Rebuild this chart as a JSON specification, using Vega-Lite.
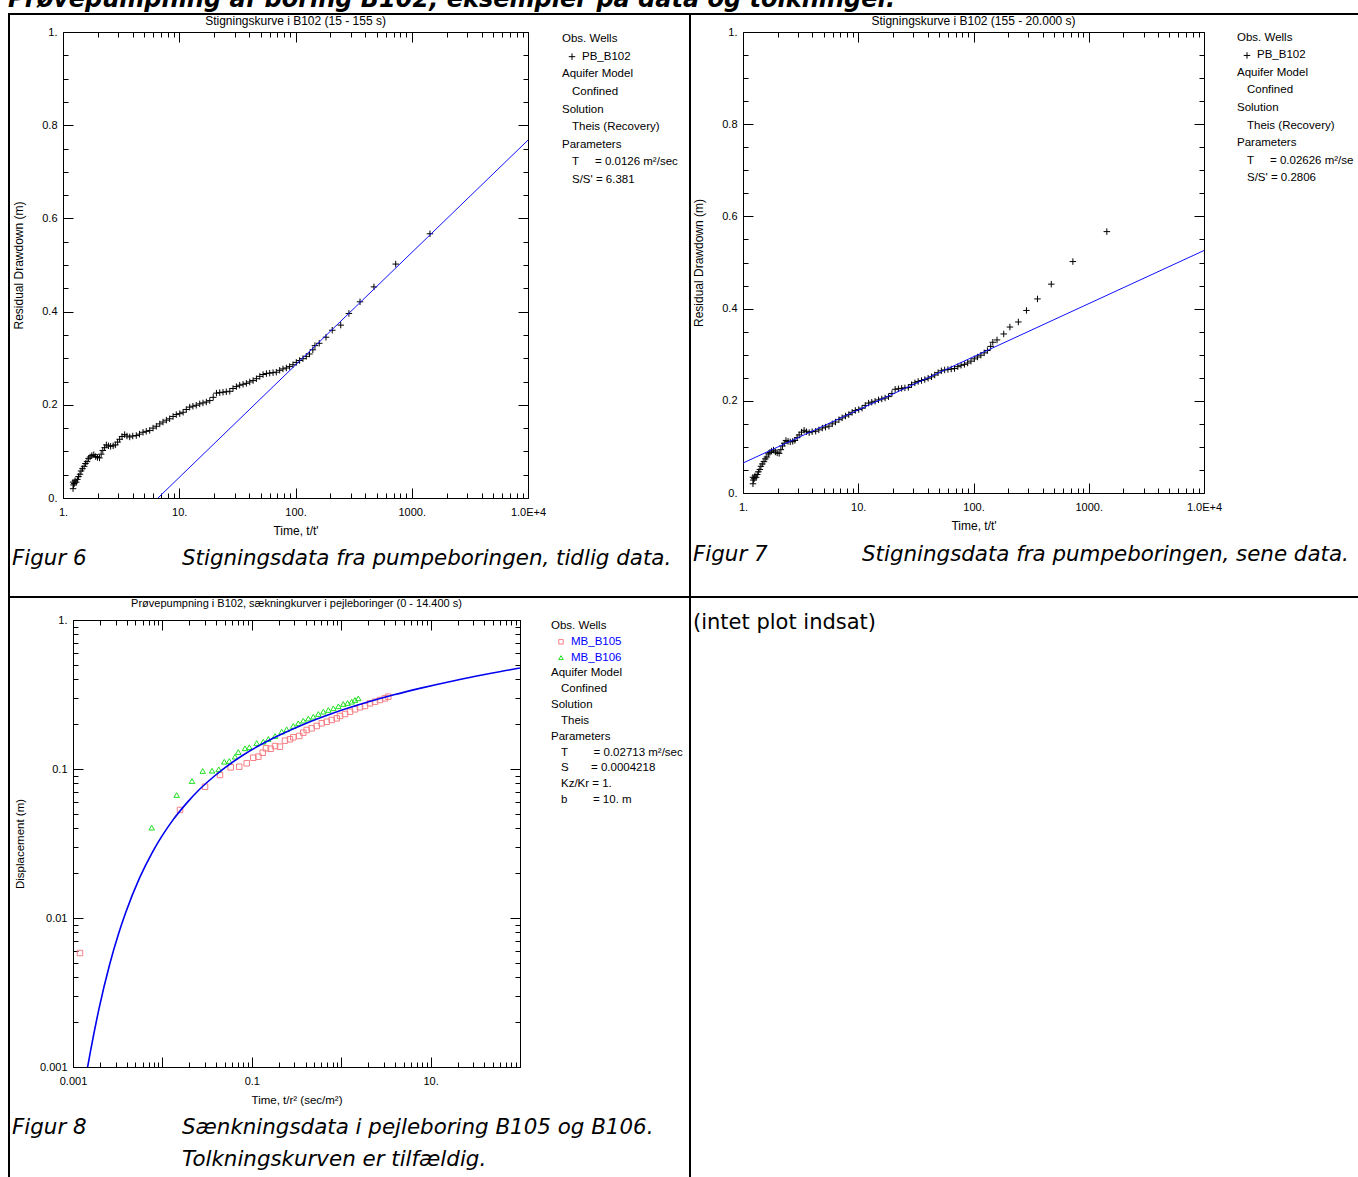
{
  "$schema": "https://vega.github.io/schema/vega-lite/v6.json",
  "background": "#ffffff",
  "padding": {"left": 8, "top": -12, "right": 0, "bottom": 0},
  "title": {"text": "Prøvepumpning af boring B102, eksempler på data og tolkninger.", "anchor": "start", "frame": "bounds", "font": "DejaVu Sans", "fontSize": 24, "fontWeight": "bold", "fontStyle": "italic", "color": "#000", "offset": -23, "baseline": "bottom"},
  "datasets": {
    "recovery": [
      {"t": 1.22, "s": 0.020}, {"t": 1.23, "s": 0.028}, {"t": 1.22, "s": 0.034}, {"t": 1.25, "s": 0.031}, {"t": 1.27, "s": 0.037},
      {"t": 1.30, "s": 0.034}, {"t": 1.33, "s": 0.040}, {"t": 1.36, "s": 0.046}, {"t": 1.40, "s": 0.051}, {"t": 1.43, "s": 0.058},
      {"t": 1.47, "s": 0.063}, {"t": 1.52, "s": 0.068}, {"t": 1.56, "s": 0.074}, {"t": 1.61, "s": 0.078}, {"t": 1.66, "s": 0.085},
      {"t": 1.71, "s": 0.088}, {"t": 1.77, "s": 0.091}, {"t": 1.84, "s": 0.093}, {"t": 1.91, "s": 0.089}, {"t": 1.98, "s": 0.087},
      {"t": 2.06, "s": 0.086}, {"t": 2.13, "s": 0.094}, {"t": 2.20, "s": 0.102}, {"t": 2.28, "s": 0.108}, {"t": 2.36, "s": 0.114},
      {"t": 2.46, "s": 0.112}, {"t": 2.57, "s": 0.111}, {"t": 2.70, "s": 0.112}, {"t": 2.82, "s": 0.114}, {"t": 2.95, "s": 0.120},
      {"t": 3.07, "s": 0.126}, {"t": 3.22, "s": 0.132}, {"t": 3.39, "s": 0.136}, {"t": 3.55, "s": 0.133}, {"t": 3.75, "s": 0.131},
      {"t": 3.98, "s": 0.133}, {"t": 4.27, "s": 0.134}, {"t": 4.55, "s": 0.137}, {"t": 4.88, "s": 0.141}, {"t": 5.20, "s": 0.143},
      {"t": 5.57, "s": 0.145}, {"t": 5.95, "s": 0.150}, {"t": 6.35, "s": 0.154}, {"t": 6.80, "s": 0.159}, {"t": 7.25, "s": 0.163},
      {"t": 7.75, "s": 0.167}, {"t": 8.27, "s": 0.170}, {"t": 8.85, "s": 0.175}, {"t": 9.43, "s": 0.179}, {"t": 10.1, "s": 0.181},
      {"t": 10.8, "s": 0.184}, {"t": 11.5, "s": 0.190}, {"t": 12.3, "s": 0.195}, {"t": 13.1, "s": 0.197}, {"t": 14.0, "s": 0.199},
      {"t": 15.0, "s": 0.202}, {"t": 16.0, "s": 0.204}, {"t": 17.1, "s": 0.206}, {"t": 18.3, "s": 0.209}, {"t": 19.6, "s": 0.216},
      {"t": 20.9, "s": 0.225}, {"t": 22.3, "s": 0.226}, {"t": 23.8, "s": 0.227}, {"t": 25.4, "s": 0.228}, {"t": 27.2, "s": 0.229},
      {"t": 29.0, "s": 0.235}, {"t": 31.0, "s": 0.239}, {"t": 33.1, "s": 0.242}, {"t": 35.4, "s": 0.244}, {"t": 37.8, "s": 0.246},
      {"t": 40.4, "s": 0.249}, {"t": 43.2, "s": 0.252}, {"t": 46.1, "s": 0.256}, {"t": 49.3, "s": 0.261}, {"t": 52.6, "s": 0.265},
      {"t": 56.2, "s": 0.267}, {"t": 60.0, "s": 0.268}, {"t": 64.1, "s": 0.269}, {"t": 68.4, "s": 0.270}, {"t": 73.1, "s": 0.274},
      {"t": 78.0, "s": 0.277}, {"t": 83.4, "s": 0.279}, {"t": 89.0, "s": 0.282}, {"t": 95.1, "s": 0.286}, {"t": 101.6, "s": 0.291},
      {"t": 108.5, "s": 0.295}, {"t": 115.9, "s": 0.299}, {"t": 123.8, "s": 0.304}, {"t": 132, "s": 0.309}, {"t": 141, "s": 0.318},
      {"t": 147, "s": 0.327}, {"t": 160, "s": 0.332}, {"t": 183, "s": 0.345}, {"t": 207, "s": 0.360}, {"t": 245, "s": 0.371},
      {"t": 288, "s": 0.396}, {"t": 359, "s": 0.421}, {"t": 473, "s": 0.453}, {"t": 728, "s": 0.502}, {"t": 1435, "s": 0.567}
    ],
    "fit6": [{"t": 6.56, "s": 0}, {"t": 10000, "s": 0.768}],
    "fit7": [{"t": 1, "s": 0.065}, {"t": 10000, "s": 0.526}],
    "obs8": [
      {"well": "MB_B105", "x": 0.001197, "y": 0.00582}, {"well": "MB_B105", "x": 0.01574, "y": 0.0531}, {"well": "MB_B105", "x": 0.02999, "y": 0.0760},
      {"well": "MB_B105", "x": 0.04406, "y": 0.0912}, {"well": "MB_B105", "x": 0.0581, "y": 0.1026}, {"well": "MB_B105", "x": 0.0724, "y": 0.1036},
      {"well": "MB_B105", "x": 0.0877, "y": 0.1092}, {"well": "MB_B105", "x": 0.104, "y": 0.119}, {"well": "MB_B105", "x": 0.1183, "y": 0.121},
      {"well": "MB_B105", "x": 0.1324, "y": 0.1286}, {"well": "MB_B105", "x": 0.1442, "y": 0.1377}, {"well": "MB_B105", "x": 0.1626, "y": 0.1368},
      {"well": "MB_B105", "x": 0.182, "y": 0.1426}, {"well": "MB_B105", "x": 0.2065, "y": 0.1412}, {"well": "MB_B105", "x": 0.235, "y": 0.1549},
      {"well": "MB_B105", "x": 0.2673, "y": 0.1583}, {"well": "MB_B105", "x": 0.291, "y": 0.1633}, {"well": "MB_B105", "x": 0.3396, "y": 0.1665},
      {"well": "MB_B105", "x": 0.3767, "y": 0.1753}, {"well": "MB_B105", "x": 0.411, "y": 0.1828}, {"well": "MB_B105", "x": 0.4677, "y": 0.1876},
      {"well": "MB_B105", "x": 0.532, "y": 0.1944}, {"well": "MB_B105", "x": 0.6053, "y": 0.2027}, {"well": "MB_B105", "x": 0.6887, "y": 0.2075},
      {"well": "MB_B105", "x": 0.7834, "y": 0.2133}, {"well": "MB_B105", "x": 0.891, "y": 0.2188}, {"well": "MB_B105", "x": 0.9705, "y": 0.2270},
      {"well": "MB_B105", "x": 1.104, "y": 0.2339}, {"well": "MB_B105", "x": 1.254, "y": 0.2425}, {"well": "MB_B105", "x": 1.426, "y": 0.2516},
      {"well": "MB_B105", "x": 1.622, "y": 0.2596}, {"well": "MB_B105", "x": 1.845, "y": 0.2649}, {"well": "MB_B105", "x": 2.099, "y": 0.2760},
      {"well": "MB_B105", "x": 2.388, "y": 0.2830}, {"well": "MB_B105", "x": 2.716, "y": 0.2905}, {"well": "MB_B105", "x": 3.090, "y": 0.2980},
      {"well": "MB_B105", "x": 3.365, "y": 0.3057},
      {"well": "MB_B106", "x": 0.00759, "y": 0.0404}, {"well": "MB_B106", "x": 0.01445, "y": 0.0669}, {"well": "MB_B106", "x": 0.02143, "y": 0.0830},
      {"well": "MB_B106", "x": 0.02825, "y": 0.0970}, {"well": "MB_B106", "x": 0.0359, "y": 0.0974}, {"well": "MB_B106", "x": 0.0427, "y": 0.0995},
      {"well": "MB_B106", "x": 0.0492, "y": 0.1119}, {"well": "MB_B106", "x": 0.0560, "y": 0.1132}, {"well": "MB_B106", "x": 0.0649, "y": 0.121},
      {"well": "MB_B106", "x": 0.0706, "y": 0.130}, {"well": "MB_B106", "x": 0.0839, "y": 0.1377}, {"well": "MB_B106", "x": 0.0938, "y": 0.140},
      {"well": "MB_B106", "x": 0.1135, "y": 0.1494}, {"well": "MB_B106", "x": 0.1346, "y": 0.1525}, {"well": "MB_B106", "x": 0.1531, "y": 0.159},
      {"well": "MB_B106", "x": 0.182, "y": 0.1665}, {"well": "MB_B106", "x": 0.216, "y": 0.178}, {"well": "MB_B106", "x": 0.2455, "y": 0.1847},
      {"well": "MB_B106", "x": 0.291, "y": 0.1944}, {"well": "MB_B106", "x": 0.331, "y": 0.2027}, {"well": "MB_B106", "x": 0.3767, "y": 0.211},
      {"well": "MB_B106", "x": 0.4285, "y": 0.218}, {"well": "MB_B106", "x": 0.4875, "y": 0.2244}, {"well": "MB_B106", "x": 0.5546, "y": 0.234},
      {"well": "MB_B106", "x": 0.631, "y": 0.2425}, {"well": "MB_B106", "x": 0.718, "y": 0.249}, {"well": "MB_B106", "x": 0.8166, "y": 0.2555},
      {"well": "MB_B106", "x": 0.929, "y": 0.2635}, {"well": "MB_B106", "x": 1.055, "y": 0.2731}, {"well": "MB_B106", "x": 1.178, "y": 0.2773},
      {"well": "MB_B106", "x": 1.31, "y": 0.283}, {"well": "MB_B106", "x": 1.426, "y": 0.2905}, {"well": "MB_B106", "x": 1.553, "y": 0.298}
    ],
    "theis8": [
      {"x": 0.001296, "y": 0.000649}, {"x": 0.001458, "y": 0.001}, {"x": 0.001555, "y": 0.001238}, {"x": 0.001944, "y": 0.00243},
      {"x": 0.002591, "y": 0.00497}, {"x": 0.003239, "y": 0.00787}, {"x": 0.003887, "y": 0.01088}, {"x": 0.005553, "y": 0.01859},
      {"x": 0.007774, "y": 0.02783}, {"x": 0.009718, "y": 0.0349}, {"x": 0.01296, "y": 0.04503}, {"x": 0.01944, "y": 0.06063},
      {"x": 0.02591, "y": 0.0728}, {"x": 0.03887, "y": 0.09045}, {"x": 0.07774, "y": 0.1228}, {"x": 0.1944, "y": 0.1665},
      {"x": 0.3887, "y": 0.2008}, {"x": 0.7774, "y": 0.2351}, {"x": 1.944, "y": 0.2803}, {"x": 3.887, "y": 0.3146},
      {"x": 7.774, "y": 0.3489}, {"x": 19.44, "y": 0.3946}, {"x": 38.87, "y": 0.4289}, {"x": 77.74, "y": 0.4637}, {"x": 100, "y": 0.476}
    ]
  },
  "spacing": 0,
  "hconcat": [
    {"width": 2, "height": 1166, "view": {"fill": "#000", "stroke": null}, "data": {"values": []}, "mark": "point"},
    {
      "spacing": 0,
      "vconcat": [
        {"width": 679, "height": 2, "view": {"fill": "#000", "stroke": null}, "data": {"values": []}, "mark": "point"},
        {
          "spacing": 12,
          "vconcat": [
            {
              "spacing": 34,
              "bounds": "flush",
              "hconcat": [
                {"width": 19, "height": 1, "data": {"values": []}, "mark": "point"},
                {
                  "width": 465,
                  "height": 466,
                  "title": {"text": "Stigningskurve i B102 (15 - 155 s)", "fontSize": 12},
                  "layer": [
                    {
                      "data": {"name": "recovery"},
                      "mark": {"type": "point", "shape": "M-1,0H1M0,-1V1", "filled": false, "size": 42, "strokeWidth": 1, "color": "#000", "opacity": 1},
                      "encoding": {
                        "x": {"field": "t", "type": "quantitative", "scale": {"type": "log", "domain": [1, 10000], "nice": false},
                          "axis": {"orient": "bottom", "values": [1, 10, 100, 1000, 10000], "tickSize": -10, "labelPadding": 18, "labelExpr": "datum.value >= 10000 ? '1.0E+4' : datum.value + '.'", "title": "Time, t/t'", "titleFontSize": 12, "titlePadding": 8}},
                        "y": {"field": "s", "type": "quantitative", "scale": {"domain": [0, 1], "nice": false},
                          "axis": {"orient": "left", "values": [0, 0.2, 0.4, 0.6, 0.8, 1], "tickSize": -10, "labelPadding": 16, "labelExpr": "datum.value == 0 ? '0.' : datum.value == 1 ? '1.' : format(datum.value, '.1f')", "title": "Residual Drawdown (m)", "titleFontSize": 12, "titlePadding": 16}}
                      }
                    },
                    {
                      "data": {"name": "fit6"},
                      "mark": {"type": "line", "color": "#1010ff", "strokeWidth": 1, "clip": true},
                      "encoding": {
                        "x": {"field": "t", "type": "quantitative", "scale": {"type": "log", "domain": [1, 10000], "nice": false},
                          "axis": {"orient": "bottom", "values": [2, 3, 4, 5, 6, 7, 8, 9, 20, 30, 40, 50, 60, 70, 80, 90, 200, 300, 400, 500, 600, 700, 800, 900, 2000, 3000, 4000, 5000, 6000, 7000, 8000, 9000], "tickSize": -5, "labels": false, "domain": false, "title": null}},
                        "y": {"field": "s", "type": "quantitative", "scale": {"domain": [0, 1], "nice": false},
                          "axis": {"orient": "left", "values": [0.05, 0.1, 0.15, 0.25, 0.3, 0.35, 0.45, 0.5, 0.55, 0.65, 0.7, 0.75, 0.85, 0.9, 0.95], "tickSize": -5, "labels": false, "domain": false, "title": null}}
                      }
                    },
                    {
                      "data": {"name": "fit6"},
                      "mark": {"type": "point", "opacity": 0},
                      "encoding": {
                        "x": {"field": "t", "type": "quantitative", "scale": {"type": "log", "domain": [1, 10000], "nice": false},
                          "axis": {"orient": "top", "values": [1, 10, 100, 1000, 10000], "tickSize": -10, "labels": false, "title": null}},
                        "y": {"field": "s", "type": "quantitative", "scale": {"domain": [0, 1], "nice": false},
                          "axis": {"orient": "right", "values": [0, 0.2, 0.4, 0.6, 0.8, 1], "tickSize": -10, "labels": false, "title": null}}
                      }
                    },
                    {
                      "data": {"name": "fit6"},
                      "mark": {"type": "point", "opacity": 0},
                      "encoding": {
                        "x": {"field": "t", "type": "quantitative", "scale": {"type": "log", "domain": [1, 10000], "nice": false},
                          "axis": {"orient": "top", "values": [2, 3, 4, 5, 6, 7, 8, 9, 20, 30, 40, 50, 60, 70, 80, 90, 200, 300, 400, 500, 600, 700, 800, 900, 2000, 3000, 4000, 5000, 6000, 7000, 8000, 9000], "tickSize": -5, "labels": false, "domain": false, "title": null}},
                        "y": {"field": "s", "type": "quantitative", "scale": {"domain": [0, 1], "nice": false},
                          "axis": {"orient": "right", "values": [0.05, 0.1, 0.15, 0.25, 0.3, 0.35, 0.45, 0.5, 0.55, 0.65, 0.7, 0.75, 0.85, 0.9, 0.95], "tickSize": -5, "labels": false, "domain": false, "title": null}}
                      }
                    }
                  ],
                  "resolve": {"axis": {"x": "independent", "y": "independent"}}
                },
                {
                  "width": 20,
                  "height": 155,
                  "layer": [
                    {
                      "data": {"values": [
                        {"line": 0, "col": "h", "text": "Obs. Wells"},
                        {"line": 1, "col": "l", "text": "PB_B102"},
                        {"line": 2, "col": "h", "text": "Aquifer Model"},
                        {"line": 3, "col": "i", "text": "Confined"},
                        {"line": 4, "col": "h", "text": "Solution"},
                        {"line": 5, "col": "i", "text": "Theis (Recovery)"},
                        {"line": 6, "col": "h", "text": "Parameters"},
                        {"line": 7, "col": "i", "text": "T\u00a0\u00a0\u00a0\u00a0\u00a0= 0.0126 m²/sec"},
                        {"line": 8, "col": "i", "text": "S/S' = 6.381"}
                      ]},
                      "mark": {"type": "text", "align": "left", "baseline": "middle", "fontSize": 11.5},
                      "encoding": {
                        "x": {"field": "col", "type": "nominal", "scale": {"type": "point", "domain": ["h", "i", "l"], "padding": 0}, "axis": null},
                        "y": {"field": "line", "type": "ordinal", "scale": {"type": "point", "domain": [0, 1, 2, 3, 4, 5, 6, 7, 8], "padding": 0.4}, "axis": null},
                        "text": {"field": "text"}
                      }
                    },
                    {
                      "data": {"values": [{"line": 1, "col": "i", "well": "PB_B102"}]},
                      "mark": {"type": "point", "shape": "M-1,0H1M0,-1V1", "filled": false, "size": 42, "strokeWidth": 1, "color": "#000", "opacity": 1},
                      "encoding": {
                        "x": {"field": "col", "type": "nominal", "scale": {"type": "point", "domain": ["h", "i", "l"], "padding": 0}, "axis": null},
                        "y": {"field": "line", "type": "ordinal", "scale": {"type": "point", "domain": [0, 1, 2, 3, 4, 5, 6, 7, 8], "padding": 0.4}, "axis": null}
                      }
                    }
                  ]
                }
              ]
            },
            {
              "width": 174,
              "height": 48,
              "data": {"values": [
                {"part": "a", "line": 0, "text": "Figur 6"},
                {"part": "b", "line": 0, "text": "Stigningsdata fra pumpeboringen, tidlig data."}
              ]},
              "mark": {"type": "text", "align": "left", "baseline": "top", "font": "DejaVu Sans", "fontStyle": "italic", "fontSize": 21.4},
              "encoding": {
                "x": {"field": "part", "type": "nominal", "scale": {"type": "point", "domain": ["a", "b"], "padding": 0.0118}, "axis": null},
                "y": {"field": "line", "type": "ordinal", "scale": {"type": "point", "align": 0, "padding": 0}, "axis": null},
                "text": {"field": "text"}
              }
            }
          ]
        },
        {"width": 679, "height": 2, "view": {"fill": "#000", "stroke": null}, "data": {"values": []}, "mark": "point"},
        {
          "spacing": 11,
          "vconcat": [
            {
              "spacing": 31,
              "bounds": "flush",
              "hconcat": [
                {"width": 32, "height": 1, "data": {"values": []}, "mark": "point"},
                {
                  "width": 447,
                  "height": 447,
                  "title": {"text": "Prøvepumpning i B102, sækningkurver i pejleboringer (0 - 14.400 s)", "offset": 5},
                  "layer": [
                    {
                      "data": {"name": "obs8"},
                      "mark": {"type": "point", "filled": false, "size": 30, "strokeWidth": 1, "opacity": 1},
                      "encoding": {
                        "x": {"field": "x", "type": "quantitative", "scale": {"type": "log", "domain": [0.001, 100], "nice": false},
                          "axis": {"orient": "bottom", "values": [0.001, 0.01, 0.1, 1, 10, 100], "tickSize": -10, "labelPadding": 18, "labelExpr": "datum.value == 0.001 ? '0.001' : datum.value == 0.1 ? '0.1' : datum.value == 10 ? '10.' : ''", "title": "Time, t/r² (sec/m²)", "titleFontSize": 11.5, "titlePadding": 8}},
                        "y": {"field": "y", "type": "quantitative", "scale": {"type": "log", "domain": [0.001, 1], "nice": false},
                          "axis": {"orient": "left", "values": [0.001, 0.01, 0.1, 1], "tickSize": -10, "labelPadding": 16, "labelExpr": "datum.value == 1 ? '1.' : '' + datum.value", "title": "Displacement (m)", "titleFontSize": 11.5, "titlePadding": 14}},
                        "color": {"field": "well", "type": "nominal", "scale": {"domain": ["MB_B105", "MB_B106"], "range": ["#f47f84", "#1ee01e"]}, "legend": null},
                        "shape": {"field": "well", "type": "nominal", "scale": {"domain": ["MB_B105", "MB_B106"], "range": ["square", "triangle-up"]}, "legend": null}
                      }
                    },
                    {
                      "data": {"name": "theis8"},
                      "mark": {"type": "line", "color": "#0000f0", "strokeWidth": 1.6, "clip": true, "interpolate": "monotone"},
                      "encoding": {
                        "x": {"field": "x", "type": "quantitative", "scale": {"type": "log", "domain": [0.001, 100], "nice": false},
                          "axis": {"orient": "bottom", "values": [0.002, 0.003, 0.004, 0.005, 0.006, 0.007, 0.008, 0.009, 0.02, 0.03, 0.04, 0.05, 0.06, 0.07, 0.08, 0.09, 0.2, 0.3, 0.4, 0.5, 0.6, 0.7, 0.8, 0.9, 2, 3, 4, 5, 6, 7, 8, 9, 20, 30, 40, 50, 60, 70, 80, 90], "tickSize": -5, "labels": false, "domain": false, "title": null}},
                        "y": {"field": "y", "type": "quantitative", "scale": {"type": "log", "domain": [0.001, 1], "nice": false},
                          "axis": {"orient": "left", "values": [0.002, 0.003, 0.004, 0.005, 0.006, 0.007, 0.008, 0.009, 0.02, 0.03, 0.04, 0.05, 0.06, 0.07, 0.08, 0.09, 0.2, 0.3, 0.4, 0.5, 0.6, 0.7, 0.8, 0.9], "tickSize": -5, "labels": false, "domain": false, "title": null}}
                      }
                    },
                    {
                      "data": {"name": "theis8"},
                      "mark": {"type": "point", "opacity": 0},
                      "encoding": {
                        "x": {"field": "x", "type": "quantitative", "scale": {"type": "log", "domain": [0.001, 100], "nice": false},
                          "axis": {"orient": "top", "values": [0.001, 0.01, 0.1, 1, 10, 100], "tickSize": -10, "labels": false, "title": null}},
                        "y": {"field": "y", "type": "quantitative", "scale": {"type": "log", "domain": [0.001, 1], "nice": false},
                          "axis": {"orient": "right", "values": [0.001, 0.01, 0.1, 1], "tickSize": -10, "labels": false, "title": null}}
                      }
                    },
                    {
                      "data": {"name": "theis8"},
                      "mark": {"type": "point", "opacity": 0},
                      "encoding": {
                        "x": {"field": "x", "type": "quantitative", "scale": {"type": "log", "domain": [0.001, 100], "nice": false},
                          "axis": {"orient": "top", "values": [0.002, 0.003, 0.004, 0.005, 0.006, 0.007, 0.008, 0.009, 0.02, 0.03, 0.04, 0.05, 0.06, 0.07, 0.08, 0.09, 0.2, 0.3, 0.4, 0.5, 0.6, 0.7, 0.8, 0.9, 2, 3, 4, 5, 6, 7, 8, 9, 20, 30, 40, 50, 60, 70, 80, 90], "tickSize": -5, "labels": false, "domain": false, "title": null}},
                        "y": {"field": "y", "type": "quantitative", "scale": {"type": "log", "domain": [0.001, 1], "nice": false},
                          "axis": {"orient": "right", "values": [0.002, 0.003, 0.004, 0.005, 0.006, 0.007, 0.008, 0.009, 0.02, 0.03, 0.04, 0.05, 0.06, 0.07, 0.08, 0.09, 0.2, 0.3, 0.4, 0.5, 0.6, 0.7, 0.8, 0.9], "tickSize": -5, "labels": false, "domain": false, "title": null}}
                      }
                    }
                  ],
                  "resolve": {"axis": {"x": "independent", "y": "independent"}}
                },
                {
                  "width": 20,
                  "height": 186,
                  "layer": [
                    {
                      "data": {"values": [
                        {"line": 0, "col": "h", "text": "Obs. Wells"},
                        {"line": 3, "col": "h", "text": "Aquifer Model"},
                        {"line": 4, "col": "i", "text": "Confined"},
                        {"line": 5, "col": "h", "text": "Solution"},
                        {"line": 6, "col": "i", "text": "Theis"},
                        {"line": 7, "col": "h", "text": "Parameters"},
                        {"line": 8, "col": "i", "text": "T\u00a0\u00a0\u00a0\u00a0\u00a0\u00a0\u00a0\u00a0= 0.02713 m²/sec"},
                        {"line": 9, "col": "i", "text": "S\u00a0\u00a0\u00a0\u00a0\u00a0\u00a0\u00a0= 0.0004218"},
                        {"line": 10, "col": "i", "text": "Kz/Kr = 1."},
                        {"line": 11, "col": "i", "text": "b\u00a0\u00a0\u00a0\u00a0\u00a0\u00a0\u00a0\u00a0= 10. m"}
                      ]},
                      "mark": {"type": "text", "align": "left", "baseline": "middle", "fontSize": 11.5},
                      "encoding": {
                        "x": {"field": "col", "type": "nominal", "scale": {"type": "point", "domain": ["h", "i", "l"], "padding": 0}, "axis": null},
                        "y": {"field": "line", "type": "ordinal", "scale": {"type": "point", "domain": [0, 1, 2, 3, 4, 5, 6, 7, 8, 9, 10, 11], "padding": 0.38}, "axis": null},
                        "text": {"field": "text"}
                      }
                    },
                    {
                      "data": {"values": [
                        {"line": 1, "col": "l", "well": "MB_B105"},
                        {"line": 2, "col": "l", "well": "MB_B106"}
                      ]},
                      "mark": {"type": "text", "align": "left", "baseline": "middle", "fontSize": 11.5, "color": "#0000ff"},
                      "encoding": {
                        "x": {"field": "col", "type": "nominal", "scale": {"type": "point", "domain": ["h", "i", "l"], "padding": 0}, "axis": null},
                        "y": {"field": "line", "type": "ordinal", "scale": {"type": "point", "domain": [0, 1, 2, 3, 4, 5, 6, 7, 8, 9, 10, 11], "padding": 0.38}, "axis": null},
                        "text": {"field": "well"}
                      }
                    },
                    {
                      "data": {"values": [
                        {"line": 1, "col": "i", "well": "MB_B105"},
                        {"line": 2, "col": "i", "well": "MB_B106"}
                      ]},
                      "mark": {"type": "point", "filled": false, "size": 20, "strokeWidth": 1, "opacity": 1},
                      "encoding": {
                        "x": {"field": "col", "type": "nominal", "scale": {"type": "point", "domain": ["h", "i", "l"], "padding": 0}, "axis": null},
                        "y": {"field": "line", "type": "ordinal", "scale": {"type": "point", "domain": [0, 1, 2, 3, 4, 5, 6, 7, 8, 9, 10, 11], "padding": 0.38}, "axis": null},
                        "color": {"field": "well", "type": "nominal", "scale": {"domain": ["MB_B105", "MB_B106"], "range": ["#f47f84", "#1ee01e"]}, "legend": null},
                        "shape": {"field": "well", "type": "nominal", "scale": {"domain": ["MB_B105", "MB_B106"], "range": ["square", "triangle-up"]}, "legend": null}
                      }
                    }
                  ]
                }
              ]
            },
            {
              "width": 174,
              "height": 32,
              "data": {"values": [
                {"part": "a", "line": 0, "text": "Figur 8"},
                {"part": "b", "line": 0, "text": "Sænkningsdata i pejleboring B105 og B106."},
                {"part": "b", "line": 1, "text": "Tolkningskurven er tilfældig."}
              ]},
              "mark": {"type": "text", "align": "left", "baseline": "top", "font": "DejaVu Sans", "fontStyle": "italic", "fontSize": 21.4},
              "encoding": {
                "x": {"field": "part", "type": "nominal", "scale": {"type": "point", "domain": ["a", "b"], "padding": 0.0118}, "axis": null},
                "y": {"field": "line", "type": "ordinal", "scale": {"type": "point", "align": 0, "padding": 0}, "axis": null},
                "text": {"field": "text"}
              }
            }
          ]
        }
      ]
    },
    {"width": 2, "height": 1166, "view": {"fill": "#000", "stroke": null}, "data": {"values": []}, "mark": "point"},
    {
      "spacing": 0,
      "vconcat": [
        {"width": 667, "height": 2, "view": {"fill": "#000", "stroke": null}, "data": {"values": []}, "mark": "point"},
        {
          "spacing": 13,
          "vconcat": [
            {
              "spacing": 33,
              "bounds": "flush",
              "hconcat": [
                {"width": 19, "height": 1, "data": {"values": []}, "mark": "point"},
                {
                  "width": 461,
                  "height": 461,
                  "title": {"text": "Stigningskurve i B102 (155 - 20.000 s)", "fontSize": 12},
                  "layer": [
                    {
                      "data": {"name": "recovery"},
                      "mark": {"type": "point", "shape": "M-1,0H1M0,-1V1", "filled": false, "size": 42, "strokeWidth": 1, "color": "#000", "opacity": 1},
                      "encoding": {
                        "x": {"field": "t", "type": "quantitative", "scale": {"type": "log", "domain": [1, 10000], "nice": false},
                          "axis": {"orient": "bottom", "values": [1, 10, 100, 1000, 10000], "tickSize": -10, "labelPadding": 18, "labelExpr": "datum.value >= 10000 ? '1.0E+4' : datum.value + '.'", "title": "Time, t/t'", "titleFontSize": 12, "titlePadding": 8}},
                        "y": {"field": "s", "type": "quantitative", "scale": {"domain": [0, 1], "nice": false},
                          "axis": {"orient": "left", "values": [0, 0.2, 0.4, 0.6, 0.8, 1], "tickSize": -10, "labelPadding": 16, "labelExpr": "datum.value == 0 ? '0.' : datum.value == 1 ? '1.' : format(datum.value, '.1f')", "title": "Residual Drawdown (m)", "titleFontSize": 12, "titlePadding": 16}}
                      }
                    },
                    {
                      "data": {"name": "fit7"},
                      "mark": {"type": "line", "color": "#1010ff", "strokeWidth": 1, "clip": true},
                      "encoding": {
                        "x": {"field": "t", "type": "quantitative", "scale": {"type": "log", "domain": [1, 10000], "nice": false},
                          "axis": {"orient": "bottom", "values": [2, 3, 4, 5, 6, 7, 8, 9, 20, 30, 40, 50, 60, 70, 80, 90, 200, 300, 400, 500, 600, 700, 800, 900, 2000, 3000, 4000, 5000, 6000, 7000, 8000, 9000], "tickSize": -5, "labels": false, "domain": false, "title": null}},
                        "y": {"field": "s", "type": "quantitative", "scale": {"domain": [0, 1], "nice": false},
                          "axis": {"orient": "left", "values": [0.05, 0.1, 0.15, 0.25, 0.3, 0.35, 0.45, 0.5, 0.55, 0.65, 0.7, 0.75, 0.85, 0.9, 0.95], "tickSize": -5, "labels": false, "domain": false, "title": null}}
                      }
                    },
                    {
                      "data": {"name": "fit7"},
                      "mark": {"type": "point", "opacity": 0},
                      "encoding": {
                        "x": {"field": "t", "type": "quantitative", "scale": {"type": "log", "domain": [1, 10000], "nice": false},
                          "axis": {"orient": "top", "values": [1, 10, 100, 1000, 10000], "tickSize": -10, "labels": false, "title": null}},
                        "y": {"field": "s", "type": "quantitative", "scale": {"domain": [0, 1], "nice": false},
                          "axis": {"orient": "right", "values": [0, 0.2, 0.4, 0.6, 0.8, 1], "tickSize": -10, "labels": false, "title": null}}
                      }
                    },
                    {
                      "data": {"name": "fit7"},
                      "mark": {"type": "point", "opacity": 0},
                      "encoding": {
                        "x": {"field": "t", "type": "quantitative", "scale": {"type": "log", "domain": [1, 10000], "nice": false},
                          "axis": {"orient": "top", "values": [2, 3, 4, 5, 6, 7, 8, 9, 20, 30, 40, 50, 60, 70, 80, 90, 200, 300, 400, 500, 600, 700, 800, 900, 2000, 3000, 4000, 5000, 6000, 7000, 8000, 9000], "tickSize": -5, "labels": false, "domain": false, "title": null}},
                        "y": {"field": "s", "type": "quantitative", "scale": {"domain": [0, 1], "nice": false},
                          "axis": {"orient": "right", "values": [0.05, 0.1, 0.15, 0.25, 0.3, 0.35, 0.45, 0.5, 0.55, 0.65, 0.7, 0.75, 0.85, 0.9, 0.95], "tickSize": -5, "labels": false, "domain": false, "title": null}}
                      }
                    }
                  ],
                  "resolve": {"axis": {"x": "independent", "y": "independent"}}
                },
                {
                  "width": 20,
                  "height": 152,
                  "layer": [
                    {
                      "data": {"values": [
                        {"line": 0, "col": "h", "text": "Obs. Wells"},
                        {"line": 1, "col": "l", "text": "PB_B102"},
                        {"line": 2, "col": "h", "text": "Aquifer Model"},
                        {"line": 3, "col": "i", "text": "Confined"},
                        {"line": 4, "col": "h", "text": "Solution"},
                        {"line": 5, "col": "i", "text": "Theis (Recovery)"},
                        {"line": 6, "col": "h", "text": "Parameters"},
                        {"line": 7, "col": "i", "text": "T\u00a0\u00a0\u00a0\u00a0\u00a0= 0.02626 m²/sec"},
                        {"line": 8, "col": "i", "text": "S/S' = 0.2806"}
                      ]},
                      "mark": {"type": "text", "align": "left", "baseline": "middle", "fontSize": 11.5, "limit": 111, "ellipsis": "\u200b"},
                      "encoding": {
                        "x": {"field": "col", "type": "nominal", "scale": {"type": "point", "domain": ["h", "i", "l"], "padding": 0}, "axis": null},
                        "y": {"field": "line", "type": "ordinal", "scale": {"type": "point", "domain": [0, 1, 2, 3, 4, 5, 6, 7, 8], "padding": 0.34}, "axis": null},
                        "text": {"field": "text"}
                      }
                    },
                    {
                      "data": {"values": [{"line": 1, "col": "i", "well": "PB_B102"}]},
                      "mark": {"type": "point", "shape": "M-1,0H1M0,-1V1", "filled": false, "size": 42, "strokeWidth": 1, "color": "#000", "opacity": 1},
                      "encoding": {
                        "x": {"field": "col", "type": "nominal", "scale": {"type": "point", "domain": ["h", "i", "l"], "padding": 0}, "axis": null},
                        "y": {"field": "line", "type": "ordinal", "scale": {"type": "point", "domain": [0, 1, 2, 3, 4, 5, 6, 7, 8], "padding": 0.34}, "axis": null}
                      }
                    }
                  ]
                }
              ]
            },
            {
              "width": 173,
              "height": 52,
              "data": {"values": [
                {"part": "a", "line": 0, "text": "Figur 7"},
                {"part": "b", "line": 0, "text": "Stigningsdata fra pumpeboringen, sene data."}
              ]},
              "mark": {"type": "text", "align": "left", "baseline": "top", "font": "DejaVu Sans", "fontStyle": "italic", "fontSize": 21.4},
              "encoding": {
                "x": {"field": "part", "type": "nominal", "scale": {"type": "point", "domain": ["a", "b"], "padding": 0.0118}, "axis": null},
                "y": {"field": "line", "type": "ordinal", "scale": {"type": "point", "align": 0, "padding": 0}, "axis": null},
                "text": {"field": "text"}
              }
            }
          ]
        },
        {"width": 667, "height": 2, "view": {"fill": "#000", "stroke": null}, "data": {"values": []}, "mark": "point"},
        {
          "width": 10,
          "height": 50,
          "data": {"values": [{"part": "a", "line": 0, "text": "(intet plot indsat)"}]},
          "mark": {"type": "text", "align": "left", "baseline": "middle", "font": "DejaVu Sans", "fontSize": 21},
          "encoding": {
            "x": {"field": "part", "type": "nominal", "scale": {"type": "point", "align": 0.2, "padding": 0}, "axis": null},
            "y": {"field": "line", "type": "ordinal", "scale": {"type": "point", "align": 0.5, "padding": 0}, "axis": null},
            "text": {"field": "text"}
          }
        }
      ]
    }
  ],
  "config": {
    "view": {"stroke": null},
    "axis": {"labelFont": "Liberation Sans", "labelFontSize": 11, "labelColor": "#000", "titleFont": "Liberation Sans", "titleFontSize": 11, "titleFontWeight": "normal", "titleColor": "#000", "tickColor": "#000", "tickWidth": 1, "domainColor": "#000", "domainWidth": 1, "grid": false, "labelOverlap": false, "labelFlush": false, "minExtent": 0, "labelBound": false},
    "title": {"font": "Liberation Sans", "fontSize": 11, "fontWeight": "normal", "color": "#000", "frame": "group", "offset": -2},
    "text": {"font": "Liberation Sans", "fontSize": 11, "color": "#000"}
  }
}
